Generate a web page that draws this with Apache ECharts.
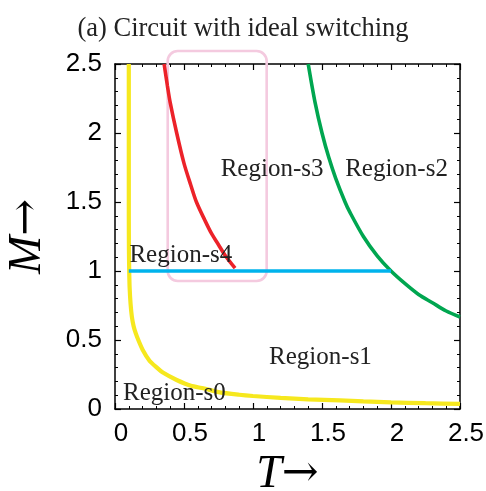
<!DOCTYPE html>
<html>
<head>
<meta charset="utf-8">
<script src="https://cdn.jsdelivr.net/npm/echarts@6/dist/echarts.min.js"></script>
<style>html,body{margin:0;padding:0;background:#fff}#c{width:486px;height:491px}</style>
</head>
<body>
<div id="c"></div>
<script>
// ---- data ----
const titleText = '(a) Circuit with ideal switching';
const xTicks = [0, 0.5, 1, 1.5, 2, 2.5];
const yTicks = [0, 0.5, 1, 1.5, 2, 2.5];

// Region-s0 boundary (yellow)
const yellowCurve = [
  [0.100, 2.5], [0.100, 1.8], [0.100, 1.4], [0.101, 1.15], [0.103, 1.0],
  [0.106, 0.88], [0.113, 0.76], [0.122, 0.67], [0.135, 0.6], [0.15, 0.55],
  [0.169, 0.5], [0.2, 0.43], [0.25, 0.35], [0.295, 0.307], [0.35, 0.262],
  [0.447, 0.21], [0.55, 0.168], [0.64, 0.15], [0.76, 0.12], [0.9, 0.103],
  [1.0, 0.094], [1.2, 0.08], [1.4, 0.07], [1.63, 0.063], [1.8, 0.055],
  [2.0, 0.048], [2.25, 0.042], [2.5, 0.037]
];
// Region-s4 / s3 boundary (red)
const redCurve = [
  [0.356, 2.5], [0.38, 2.34], [0.4, 2.22], [0.447, 2.0], [0.5, 1.78], [0.55, 1.62],
  [0.59, 1.5], [0.65, 1.37], [0.7, 1.27], [0.75, 1.19], [0.8, 1.11], [0.87, 1.02]
];
// Region-s3 / s2 boundary (green)
const greenCurve = [
  [1.4, 2.5], [1.45, 2.22], [1.5, 2.0], [1.55, 1.82], [1.6, 1.67], [1.667, 1.5], [1.7, 1.43],
  [1.8, 1.25], [1.9, 1.11], [2.0, 1.0], [2.1, 0.91], [2.2, 0.83],
  [2.3, 0.77], [2.4, 0.71], [2.5, 0.667]
];
// M = 1 boundary (blue)
const blueLine = [[0.1, 1.0], [2.0, 1.0]];

// highlight box (T from, M from, T to, M to)
const boxCorners = [[0.382, 0.928, 1.099, 2.594]];

// region labels
const regionNames = ['Region-s0', 'Region-s1', 'Region-s2', 'Region-s3', 'Region-s4'];
const regionT = [0.43, 1.489, 2.04, 1.138, 0.477];
const regionM = [0.116, 0.372, 1.735, 1.735, 1.116];

// ---- chart ----
const chart = echarts.init(document.getElementById('c'), null, {renderer: 'canvas'});
const serif = 'Liberation Serif';
const sans = 'Liberation Sans';
const axisCommon = {
  type: 'value', min: 0, max: 2.5, interval: 0.5,
  axisLine: {show: true, onZero: false, lineStyle: {color: '#000', width: 1.5}},
  axisTick: {show: true, inside: true, length: 6, lineStyle: {color: '#000', width: 1.2}},
  minorTick: {show: true, splitNumber: 5, length: 3, lineStyle: {color: '#000', width: 1}},
  splitLine: {show: false}
};
const labelData = regionNames.map((n, i) => [regionT[i], regionM[i], n]);
const nameRich = {
  i: {fontFamily: serif, fontStyle: 'italic', fontSize: 46, color: '#000'},
  a: {fontFamily: 'DejaVu Serif', fontSize: 44, color: '#000'}
};

chart.setOption({
  animation: false,
  backgroundColor: '#fff',
  title: {
    text: titleText, left: 'center', top: 11,
    textStyle: {fontFamily: serif, fontSize: 26.5, fontWeight: 'normal', color: '#222'}
  },
  grid: {left: 115, right: 26, top: 64, bottom: 82, containLabel: false, outerBoundsMode: 'none'},
  xAxis: [
    Object.assign({}, axisCommon, {
      position: 'bottom',
      name: '{i|T}{a|→}', nameLocation: 'middle', nameGap: 42,
      nameTextStyle: {rich: nameRich},
      axisLabel: {show: true, margin: 12, padding: [0, 0, 0, 12], fontFamily: sans, fontSize: 26, color: '#000',
        formatter: v => xTicks.indexOf(v) >= 0 ? String(v) : ''}
    }),
    Object.assign({}, axisCommon, {position: 'top', axisLabel: {show: false}})
  ],
  yAxis: [
    Object.assign({}, axisCommon, {
      position: 'left',
      name: '{i|M}{a|→}', nameLocation: 'middle', nameGap: 64,
      nameTextStyle: {rich: nameRich},
      axisLabel: {show: true, margin: 13, fontFamily: sans, fontSize: 26, color: '#000',
        formatter: v => yTicks.indexOf(v) >= 0 ? String(v) : ''}
    }),
    Object.assign({}, axisCommon, {position: 'right', axisLabel: {show: false}})
  ],
  series: [
    {
      type: 'custom', clip: false, z: 1,
      data: boxCorners,
      renderItem: function (params, api) {
        const p1 = api.coord([api.value(0), api.value(3)]);
        const p2 = api.coord([api.value(2), api.value(1)]);
        return {
          type: 'rect',
          shape: {x: p1[0], y: p1[1], width: p2[0] - p1[0], height: p2[1] - p1[1], r: 10},
          style: {fill: 'none', stroke: '#f4cadf', lineWidth: 2.6}
        };
      }
    },
    {type: 'line', data: yellowCurve, showSymbol: false, z: 3, smooth: 0.2,
      lineStyle: {color: '#f6e81e', width: 4.2}},
    {type: 'line', data: redCurve, showSymbol: false, z: 3, smooth: 0.3,
      lineStyle: {color: '#ec2229', width: 3.6}},
    {type: 'line', data: greenCurve, showSymbol: false, z: 3, smooth: 0.3,
      lineStyle: {color: '#00a650', width: 3.6}},
    {type: 'line', data: blueLine, showSymbol: false, z: 3,
      lineStyle: {color: '#00b3ec', width: 3.6}},
    {
      type: 'custom', clip: false, z: 5,
      data: labelData,
      renderItem: function (params, api) {
        const p = api.coord([api.value(0), api.value(1)]);
        return {
          type: 'text', x: p[0], y: p[1],
          style: {text: labelData[params.dataIndex][2], fontFamily: serif, fontSize: 25,
            fill: '#222', align: 'center', verticalAlign: 'middle'}
        };
      }
    }
  ]
});
</script>
</body>
</html>
